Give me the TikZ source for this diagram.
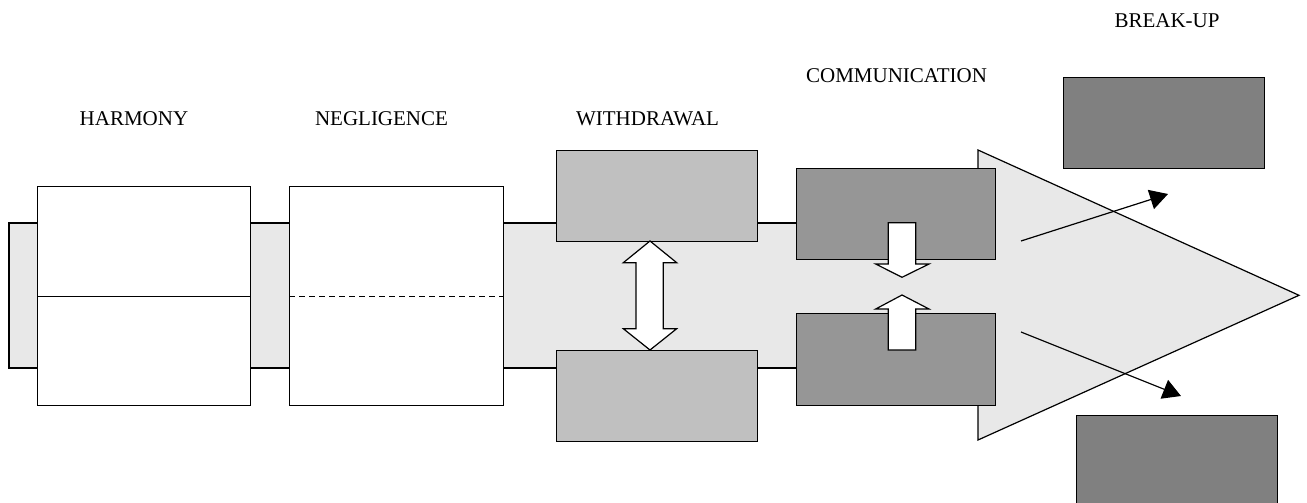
\documentclass[tikz,border=0pt]{standalone}
\usepackage{fontspec}
\setmainfont{Liberation Serif}
\usetikzlibrary{arrows.meta}
\definecolor{bandgray}{HTML}{E8E8E8}
\definecolor{wgray}{HTML}{C0C0C0}
\definecolor{cgray}{HTML}{969696}
\definecolor{bgray}{HTML}{808080}
\begin{document}
\begin{tikzpicture}[x=1pt,y=-1pt,line width=1.2pt,line join=miter,
  box/.style={draw=black,rectangle,inner sep=0pt,anchor=north west},
  lbl/.style={anchor=base,inner sep=0pt,font=\fontsize{21}{25}\selectfont},
  fat/.style={draw=black,fill=white},
  thin/.style={draw=black,-{Triangle[length=18pt,width=20pt]}}]
\useasboundingbox (0,0) rectangle (1307,503);
% triangle
\draw[fill=bandgray] (978,150) -- (1299,295.3) -- (978,440) -- cycle;
% band
\fill[bandgray] (9,223) rectangle (990,368);
\draw (990,223) -- (9,223) -- (9,368) -- (990,368);
% harmony
\node[box,fill=white,minimum width=213pt,minimum height=219pt] (h) at (37,186) {};
\draw (h.west) -- (h.east);
% negligence
\node[box,fill=white,minimum width=214pt,minimum height=219pt] (n) at (289,186) {};
\draw[dash pattern=on 6pt off 4pt] (n.west) -- (n.east);
% withdrawal
\node[box,fill=wgray,minimum width=201pt,minimum height=91pt] (w1) at (556,150) {};
\node[box,fill=wgray,minimum width=201pt,minimum height=91pt] (w2) at (556,350) {};
\draw[fat] (650,241) -- (676.7,262.7) -- (663.3,262.7) -- (663.3,328.7) -- (676.7,328.7)
  -- (650,350) -- (623.3,328.7) -- (636,328.7) -- (636,262.7) -- (623.3,262.7) -- cycle;
% communication
\node[box,fill=cgray,minimum width=199pt,minimum height=91pt] (c1) at (796,168) {};
\node[box,fill=cgray,minimum width=199pt,minimum height=92pt] (c2) at (796,313) {};
\draw[fat] (888.3,222.7) -- (915.7,222.7) -- (915.7,264) -- (929,264) -- (902,277.3)
  -- (875.7,264) -- (888.3,264) -- cycle;
\draw[fat] (888.3,350) -- (915.7,350) -- (915.7,309) -- (929,309) -- (902,295)
  -- (875.7,309) -- (888.3,309) -- cycle;
% break-up
\node[box,fill=bgray,minimum width=201pt,minimum height=91pt] (b1) at (1063,77) {};
\node[box,fill=bgray,minimum width=201pt,minimum height=92pt] (b2) at (1076,415) {};
\coordinate (s1) at (1021,241);
\coordinate (e1) at (1168,194);
\coordinate (s2) at (1021,332);
\coordinate (e2) at (1181,396);
\draw[thin] (s1) -- (e1);
\draw[thin] (s2) -- (e2);
% labels
\node[lbl] (lh) at (134,125) {HARMONY};
\node[lbl] (ln) at (381.5,125) {NEGLIGENCE};
\node[lbl] (lw) at (647.5,125) {WITHDRAWAL};
\node[lbl] (lc) at (896.5,82) {COMMUNICATION};
\node[lbl] (lb) at (1167,28) {BREAK-UP};
\end{tikzpicture}
\end{document}
